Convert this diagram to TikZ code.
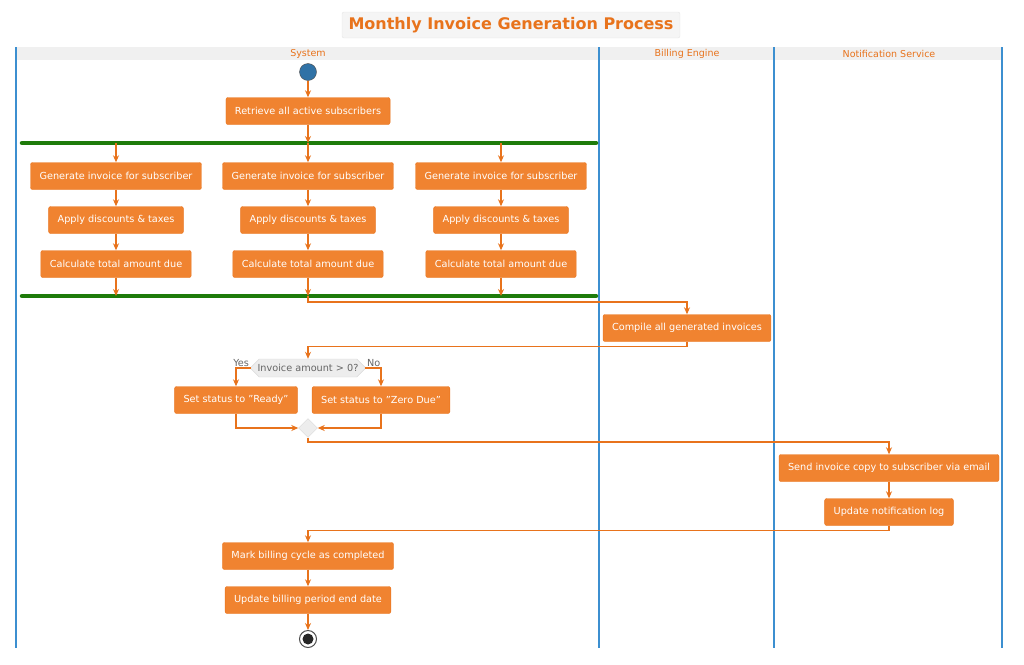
\documentclass[tikz,border=0pt]{standalone}
\usepackage{fontspec}
\setmainfont{DejaVu Sans}
\usetikzlibrary{shapes.geometric, shapes.misc, arrows.meta, calc}
\definecolor{act}{HTML}{F08330}
\definecolor{actline}{HTML}{E8731C}
\definecolor{lane}{HTML}{3C8FD0}
\definecolor{bar}{HTML}{1E7B0A}
\definecolor{hdr}{HTML}{F0F0F0}
\tikzset{
    action/.style={draw=actline, fill=act, rounded corners=2pt, text=white, font=\fontsize{9.7}{11}\selectfont, minimum height=27pt, inner xsep=9pt},
    flow/.style={draw=actline, line width=1.4pt, -{Stealth[length=7pt,width=6pt]}},
    choice/.style={draw=black!15, fill=black!7, chamfered rectangle, chamfered rectangle xsep=6pt, text=black!60, font=\fontsize{9.7}{11}\selectfont, minimum height=18pt, inner xsep=2pt, inner ysep=1pt},
    sync/.style={draw=bar, line width=4.5pt, line cap=round},
    lanename/.style={text=actline, font=\fontsize{9.5}{11}\selectfont}
}
\begin{document}
\begin{tikzpicture}[x=1pt, y=-1pt]
        \useasboundingbox (0,0) rectangle (1024,664);
        % title and lanes
        \node[draw=black!10, fill=black!4, rounded corners=2pt, text=actline, font=\bfseries\fontsize{16}{19}\selectfont, minimum width=338pt, minimum height=26pt] (title) at (511,25) {Monthly Invoice Generation Process};
        \fill[hdr] (16,47) rectangle (1002,60);
        \foreach \x in {16,599,774,1002} \draw[lane, line width=1.4pt] (\x,47) -- (\x,648);
        \node[lanename] (l1) at (308,54) {System};
        \node[lanename] (l2) at (687,54) {Billing Engine};
        \node[lanename] (l3) at (889,54) {Notification Service};
        % nodes
        \node[circle, draw=black!70, fill=lane!80!black, minimum size=17pt, inner sep=0pt] (start) at (308,72) {};
        \node[action] (retrieve) at (308,111) {Retrieve all active subscribers};
        \coordinate (forkL) at (22,143); \coordinate (forkR) at (596,143);
        \coordinate (joinL) at (22,296); \coordinate (joinR) at (596,296);
        \draw[sync] (forkL) -- (forkR);
        \draw[sync] (joinL) -- (joinR);
        \foreach \x/\n in {116/a,308/b,501/c} {
            \coordinate (f\n) at (\x,143);
            \coordinate (j\n) at (\x,296);
            \node[action] (gen\n) at (\x,176) {Generate invoice for subscriber};
            \node[action] (app\n) at (\x,220) {Apply discounts \& taxes};
            \node[action] (calc\n) at (\x,264) {Calculate total amount due};
            \draw[flow] (f\n) -- (gen\n);
            \draw[flow] (gen\n) -- (app\n);
            \draw[flow] (app\n) -- (calc\n);
            \draw[flow] (calc\n) -- (j\n);
        }
        \node[action] (compile) at (687,328) {Compile all generated invoices};
        \node[choice] (check) at (308,368) {Invoice amount > 0?};
        \node[action] (ready) at (236,400) {Set status to "Ready"};
        \node[action] (zero) at (381,400) {Set status to "Zero Due"};
        \node[diamond, draw=black!15, fill=black!7, minimum size=19pt, inner sep=0pt] (merge) at (308,428) {};
        \node[action] (send) at (889,468) {Send invoice copy to subscriber via email};
        \node[action] (log) at (889,512) {Update notification log};
        \node[action] (mark) at (308,556) {Mark billing cycle as completed};
        \node[action] (period) at (308,600) {Update billing period end date};
        \node[circle, draw=black!70, line width=1pt, minimum size=17pt, inner sep=0pt] (stop) at (308,639) {};
        \fill[black!85] (stop) circle (5.5pt);
        % connectors
        \draw[flow] (start) -- (retrieve);
        \draw[flow] (retrieve) -- (retrieve |- forkL);
        \draw[flow] (jb) -- (308,302) -| (compile);
        \draw[flow] (compile.south) -- ++(0,5) -| (check);
        \draw[flow] (check.west) -| (ready) node[pos=0, above left, inner sep=1pt, text=black!60, font=\fontsize{9.7}{11}\selectfont] {Yes};
        \draw[flow] (check.east) -| (zero) node[pos=0, above right, inner sep=1pt, text=black!60, font=\fontsize{9.7}{11}\selectfont] {No};
        \draw[flow] (ready) |- (merge);
        \draw[flow] (zero) |- (merge);
        \draw[flow] (merge) -- (308,442) -| (send);
        \draw[flow] (send) -- (log);
        \draw[flow] (log.south) -- ++(0,5) -| (mark);
        \draw[flow] (mark) -- (period);
        \draw[flow] (period) -- (stop);
    \end{tikzpicture}
\end{document}
